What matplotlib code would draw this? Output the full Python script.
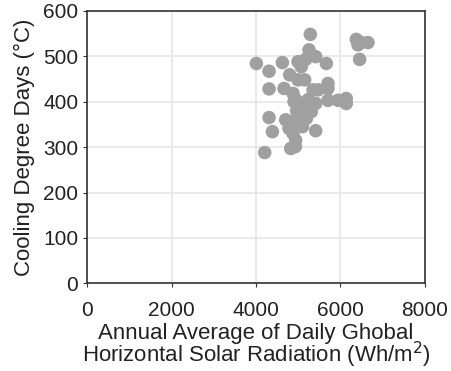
import matplotlib
matplotlib.use('Agg')
import matplotlib.pyplot as plt

# ── Data ──────────────────────────────────────────────────────────────────────
solar = [4008, 4308, 4308, 4308, 4387, 4205, 4623, 4663, 4797, 4702,
         4781, 4821, 4931, 4939, 4876, 4955, 4994, 5152, 4994, 5073,
         5255, 5286, 5413, 5176, 5665, 5350, 5468, 5704, 5704, 5704,
         5413, 5413, 5192, 5310, 5073, 5034, 4994, 4797, 5113, 5941,
         6138, 6138, 6375, 6494, 6651, 6415, 6454, 4876, 5192, 4900,
         5040, 5240, 4960, 5100]
cdd = [484, 467, 428, 365, 334, 288, 486, 429, 459, 360,
       341, 297, 301, 315, 418, 403, 448, 448, 488, 477,
       514, 548, 499, 493, 484, 426, 426, 440, 429, 403,
       396, 336, 381, 378, 389, 370, 348, 356, 360, 403,
       407, 396, 537, 530, 530, 525, 493, 330, 363, 400,
       390, 405, 380, 345]

x_ticks = [0, 2000, 4000, 6000, 8000]
y_ticks = [0, 100, 200, 300, 400, 500, 600]

plt.rcParams['font.family'] = ['Liberation Sans', 'DejaVu Sans']

fig = plt.figure(figsize=(4.52, 3.71), dpi=100)
ax = fig.add_axes([0.193, 0.236, 0.747, 0.735])

ax.scatter(solar, cdd, s=95, color='#a0a0a0', edgecolors='none', zorder=3)

ax.set_xlim(0, 8000)
ax.set_ylim(0, 600)
ax.set_xticks(x_ticks)
ax.set_yticks(y_ticks)
ax.grid(True, color='#e6e6e6', linewidth=1.2, zorder=0)
ax.tick_params(labelsize=15, length=3, color='#333333', labelcolor='#222222')
ax.tick_params(axis='x', pad=10)
for sp in ax.spines.values():
    sp.set_color('#333333')
    sp.set_linewidth(1.2)

ax.set_ylabel('Cooling Degree Days (°C)', fontsize=16, color='#222222', labelpad=6)
ax.set_xlabel('Annual Average of Daily Ghobal\nHorizontal Solar Radiation (Wh/m$^2$)',
              fontsize=16, color='#222222', linespacing=0.82, labelpad=2)

plt.savefig('out.png', dpi=100)
